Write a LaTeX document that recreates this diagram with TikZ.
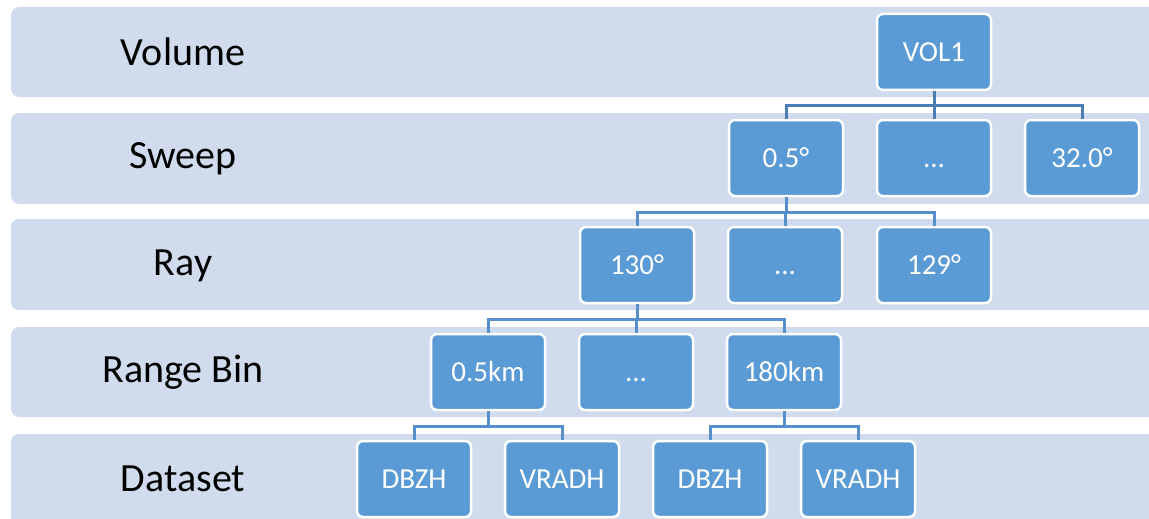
\documentclass[tikz,border=0pt]{standalone}
\usepackage{fontspec}
\setmainfont{Carlito}
\definecolor{bandc}{HTML}{D0DCEE}
\definecolor{boxc}{HTML}{5B9BD5}
\definecolor{linec}{HTML}{5690CC}
\definecolor{linetop}{HTML}{4A7EB2}
\tikzset{
  band/.style={fill=bandc, draw=none, rounded corners=8pt},
  lvl/.style={font=\fontsize{40}{40}\selectfont, text=black, anchor=center},
  bx/.style={draw=white, line width=2.5pt, fill=boxc, rounded corners=6pt,
    minimum width=114pt, minimum height=76pt, inner sep=0pt, text=white,
    text height=18.5pt, text depth=0pt,
    font=\fontsize{29}{29}\selectfont},
  conn/.style={draw=linec, line width=3pt},
  conntop/.style={draw=linetop, line width=3pt}
}
\begin{document}
\begin{tikzpicture}[x=1pt,y=-1pt]
\useasboundingbox (0,0) rectangle (1149,519);
% bands
\fill[band] (11,7) rectangle (1170,97);
\fill[band] (11,113) rectangle (1170,204);
\fill[band] (11,219) rectangle (1170,310);
\fill[band] (11,327) rectangle (1170,417);
\fill[band] (11,434) rectangle (1170,540);
% level labels
\node[lvl] (lvol) at (183,52) {Volume};
\node[lvl] (lswp) at (183,159) {Sweep};
\node[lvl] (lray) at (183,266) {Ray};
\node[lvl] (lrng) at (183,372) {Range Bin};
\node[lvl] (lds) at (183,479) {Dataset};
% bus levels
\coordinate (b1) at (0,105);
\coordinate (b2) at (0,212);
\coordinate (b3) at (0,319);
\coordinate (b4) at (0,426);
% boxes
\node[bx] (vol) at (934,52) {VOL1};
\node[bx] (s1) at (786,158) {0.5°};
\node[bx] (s2) at (934,158) {...};
\node[bx] (s3) at (1082,158) {32.0°};
\node[bx] (r1) at (637,265) {130°};
\node[bx] (r2) at (785,265) {...};
\node[bx] (r3) at (934,265) {129°};
\node[bx] (g1) at (488,372) {0.5km};
\node[bx] (g2) at (636,372) {...};
\node[bx] (g3) at (784,372) {180km};
\node[bx] (d1) at (414,479) {DBZH};
\node[bx] (d2) at (562,479) {VRADH};
\node[bx] (d3) at (710,479) {DBZH};
\node[bx] (d4) at (858,479) {VRADH};
% volume -> sweeps
\draw[conntop] (vol.south) -- (vol.south |- b1);
\draw[conntop] (s1.north) -- (s1.north |- b1) -- (s3.north |- b1) -- (s3.north);
\draw[conntop] (s2.north) -- (s2.north |- b1);
% sweep -> rays
\draw[conn] (s1.south) -- (s1.south |- b2);
\draw[conn] (r1.north) -- (r1.north |- b2) -- (r3.north |- b2) -- (r3.north);
\draw[conn] (r2.north) -- (r2.north |- b2);
% ray -> range bins
\draw[conn] (r1.south) -- (r1.south |- b3);
\draw[conn] (g1.north) -- (g1.north |- b3) -- (g3.north |- b3) -- (g3.north);
\draw[conn] (g2.north) -- (g2.north |- b3);
% range bins -> datasets
\draw[conn] (g1.south) -- (g1.south |- b4);
\draw[conn] (d1.north) -- (d1.north |- b4) -- (d2.north |- b4) -- (d2.north);
\draw[conn] (g3.south) -- (g3.south |- b4);
\draw[conn] (d3.north) -- (d3.north |- b4) -- (d4.north |- b4) -- (d4.north);
\end{tikzpicture}
\end{document}
